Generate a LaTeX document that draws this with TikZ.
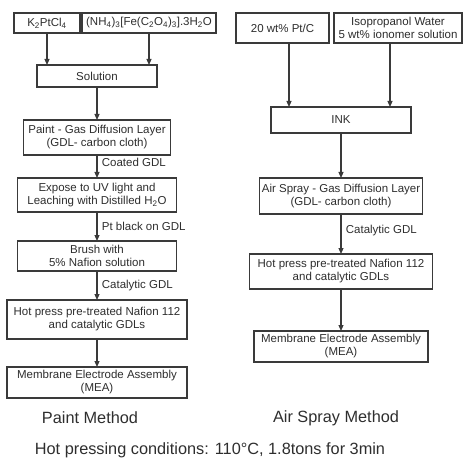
\documentclass[tikz,border=0pt]{standalone}
\usepackage{fontspec}
\setmainfont{Liberation Sans}
\usetikzlibrary{arrows.meta, positioning}
\definecolor{boxline}{HTML}{3A3A3A}
\definecolor{textdark}{HTML}{2E2E2E}
\tikzset{
    stepbox/.style={
        rectangle, draw=boxline, fill=white, line width=1.1pt,
        inner sep=1pt, outer sep=0pt, align=center,
        font=\fontsize{11.5}{13}\selectfont, text=textdark
    },
    flowarrow/.style={
        -{Triangle[length=6pt, width=5pt]}, line width=1.1pt, color=boxline
    },
    arrowlab/.style={
        right=1pt, font=\fontsize{11.5}{13}\selectfont, text=textdark
    },
    methodlab/.style={
        font=\fontsize{16.3}{19}\selectfont, text=textdark
    },
}

\begin{document}
\begin{tikzpicture}[x=1pt, y=-1pt]
    \useasboundingbox (0,0) rectangle (464,460);

    % Paint method: inputs
    \node[stepbox, minimum width=66pt, minimum height=20pt] (ktwo) at (47,23) {K\textsubscript{2}PtCl\textsubscript{4}};
    \node[stepbox, minimum width=134pt, minimum height=20pt] (ferri) at (149,23) {(NH\textsubscript{4})\textsubscript{3}[Fe(C\textsubscript{2}O\textsubscript{4})\textsubscript{3}].3H\textsubscript{2}O};

    % Paint method: steps
    \node[stepbox, minimum width=120pt, minimum height=22pt, anchor=north] (solution) at (97,65) {Solution};
    \node[stepbox, minimum width=147pt, minimum height=35pt, below=33pt of solution] (paint) {Paint - Gas Diffusion Layer\\(GDL- carbon cloth)};
    \node[stepbox, minimum width=159pt, minimum height=34pt, below=23pt of paint] (expose) {Expose to UV light and\\Leaching with Distilled H\textsubscript{2}O};
    \node[stepbox, minimum width=159pt, minimum height=30pt, below=29pt of expose] (brush) {Brush with\\5\% Nafion solution};
    \node[stepbox, minimum width=180pt, minimum height=39pt, below=29pt of brush] (hotpaint) {Hot press pre-treated Nafion 112\\and catalytic GDLs};
    \node[stepbox, minimum width=180pt, minimum height=31pt, below=28pt of hotpaint] (meapaint) {Membrane Electrode Assembly\\(MEA)};

    % Air spray method: inputs
    \node[stepbox, minimum width=93pt, minimum height=30pt] (ptc) at (282.5,28) {20 wt\% Pt/C};
    \node[stepbox, minimum width=128pt, minimum height=30pt] (ipa) at (398,28) {Isopropanol Water\\5 wt\% ionomer solution};

    % Air spray method: steps
    \node[stepbox, minimum width=140pt, minimum height=26pt, anchor=north] (ink) at (341,107) {INK};
    \node[stepbox, minimum width=163pt, minimum height=36pt, below=45pt of ink] (spray) {Air Spray - Gas Diffusion Layer\\(GDL- carbon cloth)};
    \node[stepbox, minimum width=183pt, minimum height=35pt, below=40pt of spray] (hotspray) {Hot press pre-treated Nafion 112\\and catalytic GDLs};
    \node[stepbox, minimum width=174pt, minimum height=31pt, below=42pt of hotspray] (measpray) {Membrane Electrode Assembly\\(MEA)};

    % Arrows: paint method
    \draw[flowarrow] (ktwo.south) -- (ktwo.south |- solution.north);
    \draw[flowarrow] (ferri.south) -- (ferri.south |- solution.north);
    \draw[flowarrow] (solution) -- (paint);
    \draw[flowarrow] (paint) -- node[arrowlab, pos=0.3] {Coated GDL} (expose);
    \draw[flowarrow] (expose) -- node[arrowlab] {Pt black on GDL} (brush);
    \draw[flowarrow] (brush) -- node[arrowlab] {Catalytic GDL} (hotpaint);
    \draw[flowarrow] (hotpaint) -- (meapaint);

    % Arrows: air spray method
    \draw[flowarrow] ([xshift=6.5pt]ptc.south) -- ([xshift=6.5pt]ptc.south |- ink.north);
    \draw[flowarrow] ([xshift=-8pt]ipa.south) -- ([xshift=-8pt]ipa.south |- ink.north);
    \draw[flowarrow] (ink) -- (spray);
    \draw[flowarrow] (spray) -- node[arrowlab, pos=0.42] {Catalytic GDL} (hotspray);
    \draw[flowarrow] (hotspray) -- (measpray);

    % Captions
    \node[methodlab] (paintlab) at (90,418) {Paint Method};
    \node[methodlab] (spraylab) at (336,418) {Air Spray Method};
    \node[methodlab] (condlab) at (210,450) {Hot pressing conditions: 110°C, 1.8tons for 3min};

\end{tikzpicture}
\end{document}
